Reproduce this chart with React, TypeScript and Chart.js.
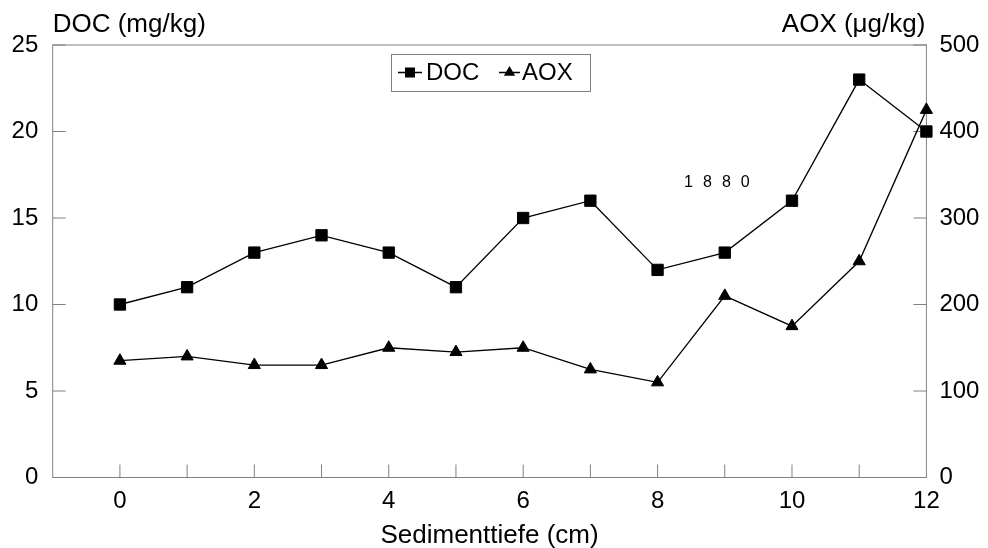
import React, { useEffect, useRef } from "react";
import { Chart, registerables } from "chart.js";

Chart.register(...registerables);

const depth = [0, 1, 2, 3, 4, 5, 6, 7, 8, 9, 10, 11, 12];
const docValues = [10, 11, 13, 14, 13, 11, 15, 16, 12, 13, 16, 23, 20];
const aoxValues = [135, 140, 130, 130, 150, 145, 150, 125, 110, 210, 175, 250, 425];
const xTickLabels = [0, 2, 4, 6, 8, 10, 12];
const docTicks = [0, 5, 10, 15, 20, 25];
const aoxTicks = [0, 100, 200, 300, 400, 500];
const xMinorTicks = [0, 1, 2, 3, 4, 5, 6, 7, 8, 9, 10, 11];

const FONT = "'Liberation Sans', Arial, Helvetica, sans-serif";
const GRAY = "#808080";

const overlay = {
  id: "overlay",
  beforeDatasetsDraw(chart: any) {
    const { ctx, chartArea } = chart;
    const { left, right, top, bottom } = chartArea;
    const xs = chart.scales.x;
    const ys = chart.scales.y;
    const y1 = chart.scales.y1;
    ctx.save();
    ctx.strokeStyle = GRAY;
    ctx.lineWidth = 1;
    ctx.strokeRect(left, top, right - left, bottom - top);
    const TL = 13;
    ctx.beginPath();
    xMinorTicks.forEach((v) => {
      const px = xs.getPixelForValue(v);
      ctx.moveTo(px, bottom);
      ctx.lineTo(px, bottom - TL);
    });
    docTicks.forEach((v) => {
      const py = ys.getPixelForValue(v);
      ctx.moveTo(left, py);
      ctx.lineTo(left + TL, py);
    });
    aoxTicks.forEach((v) => {
      const py = y1.getPixelForValue(v);
      ctx.moveTo(right, py);
      ctx.lineTo(right - TL, py);
    });
    ctx.stroke();
    ctx.restore();
  },
  afterDraw(chart: any) {
    const { ctx, chartArea } = chart;
    const { left, right } = chartArea;
    ctx.save();
    ctx.fillStyle = "#000";
    ctx.textBaseline = "alphabetic";
    ctx.font = `26px ${FONT}`;
    ctx.textAlign = "left";
    ctx.fillText("DOC (mg/kg)", left, 32);
    ctx.textAlign = "right";
    ctx.fillText("AOX (μg/kg)", right - 1, 32);
    ctx.textAlign = "center";
    ctx.fillText("Sedimenttiefe (cm)", (left + right) / 2, 543);

    // legend
    const bx = 391, by = 54, bw = 199, bh = 37;
    ctx.fillStyle = "#fff";
    ctx.fillRect(bx, by, bw, bh);
    ctx.strokeStyle = GRAY;
    ctx.lineWidth = 1;
    ctx.strokeRect(bx + 0.5, by + 0.5, bw, bh);
    const cy = by + bh / 2;
    ctx.strokeStyle = "#000";
    ctx.fillStyle = "#000";
    ctx.lineWidth = 1.3;
    ctx.beginPath();
    ctx.moveTo(398, cy);
    ctx.lineTo(422, cy);
    ctx.moveTo(499, cy);
    ctx.lineTo(520, cy);
    ctx.stroke();
    ctx.fillRect(410 - 5, cy - 5, 10, 10);
    ctx.beginPath();
    const tr = 6.5;
    ctx.moveTo(509.5, cy - tr);
    ctx.lineTo(509.5 + tr * 0.866, cy + tr * 0.5);
    ctx.lineTo(509.5 - tr * 0.866, cy + tr * 0.5);
    ctx.closePath();
    ctx.fill();
    ctx.font = `24px ${FONT}`;
    ctx.textAlign = "left";
    ctx.fillText("DOC", 426, 80);
    ctx.fillText("AOX", 522, 80);

    // annotation
    ctx.font = `16px ${FONT}`;
    let x = 684;
    for (const ch of "1 8 8 0") {
      ctx.fillText(ch, x, 187);
      x += ctx.measureText(ch).width + 2.8;
    }
    ctx.restore();
  },
};

export default function App() {
  const ref = useRef<HTMLCanvasElement>(null);
  useEffect(() => {
    document.body.style.margin = "0";
    const canvas = ref.current!;
    const chart = new Chart(canvas, {
      type: "line",
      data: {
        datasets: [
          {
            label: "DOC",
            data: depth.map((d, i) => ({ x: d, y: docValues[i] })),
            yAxisID: "y",
            borderColor: "#000",
            backgroundColor: "#000",
            borderWidth: 1.3,
            pointStyle: "rect",
            pointRadius: 8,
            pointBorderWidth: 1,
            pointBorderColor: "#000",
            pointBackgroundColor: "#000",
            clip: false,
          } as any,
          {
            label: "AOX",
            data: depth.map((d, i) => ({ x: d, y: aoxValues[i] })),
            yAxisID: "y1",
            borderColor: "#000",
            backgroundColor: "#000",
            borderWidth: 1.3,
            pointStyle: "triangle",
            pointRadius: 7,
            pointBorderWidth: 1,
            pointBorderColor: "#000",
            pointBackgroundColor: "#000",
            clip: false,
          } as any,
        ],
      },
      options: {
        responsive: false,
        animation: false,
        layout: { padding: { top: 45, left: 0, right: 0, bottom: 0 } },
        plugins: { legend: { display: false }, tooltip: { enabled: false } },
        scales: {
          x: {
            type: "linear",
            min: -1,
            max: 12,
            grid: { display: false, drawTicks: false },
            border: { display: false },
            afterBuildTicks: (s: any) => {
              s.ticks = xTickLabels.map((v) => ({ value: v }));
            },
            afterFit: (s: any) => {
              s.height = 70.5;
            },
            ticks: {
              color: "#000",
              font: { family: FONT, size: 24 },
              padding: 9,
              maxRotation: 0,
              autoSkip: false,
            },
          },
          y: {
            position: "left",
            min: 0,
            max: 25,
            grid: { display: false, drawTicks: false },
            border: { display: false },
            afterBuildTicks: (s: any) => {
              s.ticks = docTicks.map((v) => ({ value: v }));
            },
            afterFit: (s: any) => {
              s.width = 52.7;
            },
            ticks: {
              color: "#000",
              font: { family: FONT, size: 24 },
              padding: 14.4,
            },
          },
          y1: {
            position: "right",
            min: 0,
            max: 500,
            grid: { display: false, drawTicks: false },
            border: { display: false },
            afterBuildTicks: (s: any) => {
              s.ticks = aoxTicks.map((v) => ({ value: v }));
            },
            afterFit: (s: any) => {
              s.width = 61.6;
            },
            ticks: {
              color: "#000",
              font: { family: FONT, size: 24 },
              padding: 13,
            },
          },
        },
      },
      plugins: [overlay],
    });
    return () => chart.destroy();
  }, []);
  return (
    <div style={{ position: "fixed", left: 0, top: 0, width: 988, height: 548 }}>
      <canvas ref={ref} width={988} height={548} style={{ display: "block" }} />
    </div>
  );
}
